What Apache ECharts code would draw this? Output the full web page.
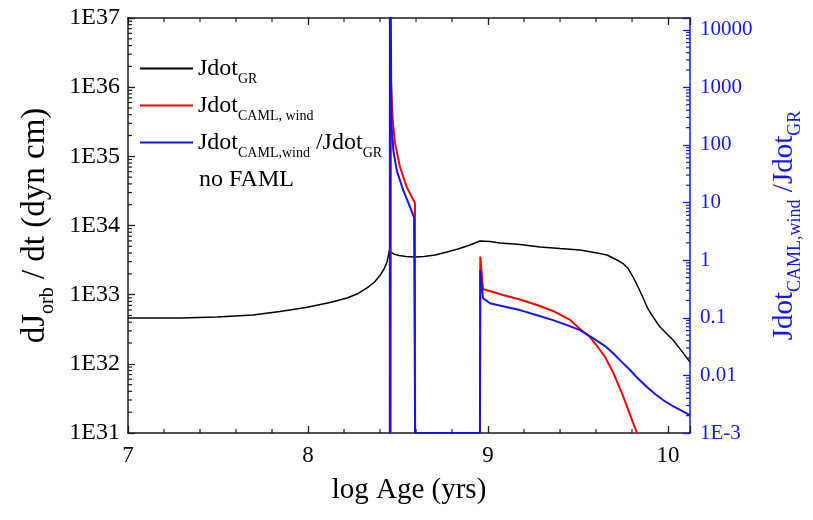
<!DOCTYPE html>
<html>
<head>
<meta charset="utf-8">
<script src="https://cdn.jsdelivr.net/npm/echarts@6/dist/echarts.min.js"></script>
<style>
  html, body { margin: 0; padding: 0; background: #fff; }
  #chart { width: 813px; height: 520px; }
</style>
</head>
<body>
<div id="chart"></div>
<script>
// Axis ranges
const X_MIN = 7, X_MAX = 10.122;
const Y_LEFT_MIN = 1e31, Y_LEFT_MAX = 1e37;
const Y_RIGHT_MIN = 1e-3, Y_RIGHT_MAX = 1.6e4;

// Jdot_GR (dyn cm) versus log age
const grAge = [7.0, 7.294, 7.494, 7.694, 7.844, 7.989, 8.122, 8.217, 8.272, 8.328, 8.367, 8.4, 8.422, 8.439,
  8.453, 8.461, 8.475, 8.506, 8.544, 8.594, 8.644, 8.706, 8.772, 8.833, 8.892, 8.956, 9.011, 9.067, 9.178,
  9.289, 9.4, 9.511, 9.606, 9.661, 9.694, 9.722, 9.75, 9.778, 9.806, 9.828, 9.844, 9.867, 9.883, 9.906,
  9.928, 9.956, 9.994, 10.028, 10.072, 10.122];
const grJdot = [4.60e32, 4.60e32, 4.75e32, 5.08e32, 5.71e32, 6.52e32, 7.71e32, 8.95e32, 1.02e33, 1.25e33,
  1.50e33, 1.89e33, 2.35e33, 2.97e33, 4.43e33, 4.14e33, 3.87e33, 3.68e33, 3.56e33, 3.51e33, 3.56e33, 3.74e33,
  4.14e33, 4.57e33, 5.13e33, 5.97e33, 5.86e33, 5.58e33, 5.31e33, 4.90e33, 4.65e33, 4.43e33, 4.00e33, 3.74e33,
  3.39e33, 3.12e33, 2.82e33, 2.39e33, 1.80e33, 1.38e33, 1.13e33, 8.37e32, 6.64e32, 5.25e32, 4.31e32, 3.40e32,
  2.70e32, 2.21e32, 1.58e32, 1.06e32];

// Jdot_CAML,wind (dyn cm); 1e30 marks phases with no wind loss (below the axis)
const camlAge = [8.459, 8.4605, 8.465, 8.4706, 8.4833, 8.511, 8.548, 8.594, 8.595, 8.955, 8.957, 8.972, 9.083,
  9.178, 9.272, 9.361, 9.456, 9.511, 9.567, 9.606, 9.65, 9.694, 9.75, 9.806, 9.828, 9.844];
const camlJdot = [1e30, 1.26e36, 1.26e36, 3.35e35, 1.55e35, 7.02e34, 3.61e34, 2.11e34, 1e30, 1e30, 3.55e33,
  1.21e33, 9.89e32, 8.51e32, 7.10e32, 5.81e32, 4.31e32, 3.19e32, 2.44e32, 1.81e32, 1.26e32, 7.62e31, 3.43e31,
  1.40e31, 1.0e31, 7.0e30];

// Jdot_CAML,wind / Jdot_GR
const ratioAge = [8.454, 8.455, 8.458, 8.4635, 8.474, 8.493, 8.529, 8.567, 8.589, 8.594, 8.595, 8.955, 8.957,
  8.972, 9.011, 9.094, 9.178, 9.272, 9.361, 9.439, 9.511, 9.583, 9.65, 9.694, 9.744, 9.789, 9.833, 9.883,
  9.928, 9.972, 10.022, 10.067, 10.122];
const ratioVal = [1e-5, 1e7, 1e7, 237, 80.7, 36.3, 16.4, 8.30, 5.56, 5.37, 1e-3, 1e-3, 0.67, 0.219, 0.179,
  0.156, 0.136, 0.111, 0.0910, 0.0746, 0.0611, 0.0444, 0.0323, 0.0244, 0.0170, 0.0124, 0.00881, 0.00627,
  0.00474, 0.00373, 0.00300, 0.00251, 0.00205];

// Tick labels
const xTickLabels = { 7: '7', 8: '8', 9: '9', 10: '10' };
const leftTickLabels = { 31: '1E31', 32: '1E32', 33: '1E33', 34: '1E34', 35: '1E35', 36: '1E36', 37: '1E37' };
const rightTickLabels = { '-3': '1E-3', '-2': '0.01', '-1': '0.1', 0: '1', 1: '10', 2: '100', 3: '1000', 4: '10000' };

// Minor tick positions
const xMinorTicks = [7.2, 7.4, 7.6, 7.8, 8.2, 8.4, 8.6, 8.8, 9.2, 9.4, 9.6, 9.8];
const logMinorFactors = [2, 3, 4, 5, 6, 7, 8, 9];
const leftDecades = [31, 32, 33, 34, 35, 36];
const rightDecades = [-3, -2, -1, 0, 1, 2, 3, 4];

const FONT = 'Liberation Serif';
const BLACK = '#1a1a1a';
const BLUE = '#1515e8';

const pairs = (xs, ys) => xs.map((x, i) => [x, ys[i]]);
const decadeLabel = (v, table) => {
  const e = Math.log10(v);
  const r = Math.round(e);
  return Math.abs(e - r) < 1e-6 && table[r] !== undefined ? table[r] : '';
};

const leftNameRich = {
  m: { fontFamily: FONT, fontSize: 33, lineHeight: 38 },
  s: { fontFamily: FONT, fontSize: 20, lineHeight: 20, padding: [25, 0, 0, 0] }
};
const rightNameRich = {
  m: { fontFamily: FONT, fontSize: 29, lineHeight: 34 },
  s: { fontFamily: FONT, fontSize: 18, lineHeight: 18, padding: [23, 0, 0, 0] }
};
const legendRich = {
  m: { fontFamily: FONT, fontSize: 24, lineHeight: 28, color: '#000' },
  s: { fontFamily: FONT, fontSize: 14, lineHeight: 14, padding: [21, 0, 0, 0], color: '#000' }
};
const legendText = {
  'Jdot_GR': '{m|Jdot}{s|GR}',
  'Jdot_CAML,wind': '{m|Jdot}{s|CAML, wind}',
  'Jdot_CAML,wind/Jdot_GR': '{m|Jdot}{s|CAML,wind}{m| /Jdot}{s|GR}'
};

const noFamlText = {
  id: 'noFaml',
  type: 'text',
  left: 199,
  top: 168,
  style: { text: 'no FAML', font: '24px "Liberation Serif"', fill: '#000' }
};

const MAJOR_LEN = 7;
const chart = echarts.init(document.getElementById('chart'));
chart.setOption({
  animation: false,
  backgroundColor: '#fff',
  grid: { left: 128, right: 123, top: 18, bottom: 87 },
  legend: {
    orient: 'vertical',
    left: 140,
    top: 51,
    padding: 0,
    icon: 'rect',
    itemWidth: 53,
    itemHeight: 2,
    itemGap: 2,
    selectedMode: false,
    data: ['Jdot_GR', 'Jdot_CAML,wind', 'Jdot_CAML,wind/Jdot_GR'],
    formatter: name => legendText[name],
    textStyle: { fontFamily: FONT, fontSize: 24, color: '#000', rich: legendRich }
  },
  graphic: [noFamlText],
  xAxis: [{
    type: 'value',
    position: 'bottom',
    min: X_MIN, max: X_MAX, interval: 1,
    name: 'log Age (yrs)',
    nameLocation: 'middle',
    nameGap: 43,
    nameTextStyle: { fontFamily: FONT, fontSize: 29, color: '#000' },
    axisLine: { show: true, lineStyle: { color: BLACK, width: 1.5 } },
    axisTick: { show: true, inside: true, length: MAJOR_LEN, lineStyle: { color: BLACK, width: 1.3 } },
    axisLabel: {
      margin: 11, fontFamily: FONT, fontSize: 23, color: '#000',
      formatter: v => { const r = Math.round(v); return Math.abs(v - r) < 1e-6 && xTickLabels[r] ? xTickLabels[r] : ''; }
    },
    splitLine: { show: false }
  }, {
    type: 'value',
    position: 'top',
    min: X_MIN, max: X_MAX, interval: 1,
    axisLine: { show: true, lineStyle: { color: BLACK, width: 1.5 } },
    axisTick: { show: true, inside: true, length: MAJOR_LEN, lineStyle: { color: BLACK, width: 1.3 } },
    axisLabel: { show: false },
    splitLine: { show: false }
  }],
  yAxis: [{
    type: 'log',
    logBase: 10,
    position: 'left',
    min: Y_LEFT_MIN, max: Y_LEFT_MAX,
    name: '{m|dJ}{s|orb}{m| / dt (dyn cm)}',
    nameLocation: 'middle',
    nameRotate: 90,
    nameGap: 74,
    nameTextStyle: { color: '#000', rich: leftNameRich },
    axisLine: { show: true, lineStyle: { color: BLACK, width: 1.5 } },
    axisTick: { show: true, inside: true, length: MAJOR_LEN, lineStyle: { color: BLACK, width: 1.3 } },
    axisLabel: {
      margin: 8, fontFamily: FONT, fontSize: 24, color: '#000',
      formatter: v => decadeLabel(v, leftTickLabels)
    },
    splitLine: { show: false }
  }, {
    type: 'log',
    logBase: 10,
    position: 'right',
    min: Y_RIGHT_MIN, max: Y_RIGHT_MAX,
    name: '{m|Jdot}{s|CAML,wind}{m| /Jdot}{s|GR}',
    nameLocation: 'middle',
    nameRotate: 90,
    nameGap: 64,
    nameTextStyle: { color: BLUE, rich: rightNameRich },
    axisLine: { show: true, lineStyle: { color: BLUE, width: 1.5 } },
    axisTick: { show: true, inside: true, length: MAJOR_LEN, lineStyle: { color: BLUE, width: 1.3 } },
    axisLabel: {
      margin: 10, fontFamily: FONT, fontSize: 21, color: BLUE,
      formatter: v => decadeLabel(v, rightTickLabels)
    },
    splitLine: { show: false }
  }],
  series: [{
    name: 'Jdot_GR',
    type: 'line',
    xAxisIndex: 0, yAxisIndex: 0,
    data: pairs(grAge, grJdot),
    symbol: 'none',
    lineStyle: { color: '#000', width: 1.5 },
    itemStyle: { color: '#000' },
    z: 3
  }, {
    name: 'Jdot_CAML,wind',
    type: 'line',
    xAxisIndex: 0, yAxisIndex: 0,
    data: pairs(camlAge, camlJdot),
    symbol: 'none',
    lineStyle: { color: '#ff0000', width: 2 },
    itemStyle: { color: '#ff0000' },
    z: 4
  }, {
    name: 'Jdot_CAML,wind/Jdot_GR',
    type: 'line',
    xAxisIndex: 0, yAxisIndex: 1,
    data: pairs(ratioAge, ratioVal),
    symbol: 'none',
    lineStyle: { color: BLUE, width: 2 },
    itemStyle: { color: BLUE },
    z: 5
  }]
});

// Minor ticks, placed through the axes' own data-to-pixel conversion
const MINOR_LEN = 4;
const leftFinder = { xAxisIndex: 0, yAxisIndex: 0 };
const rightFinder = { xAxisIndex: 0, yAxisIndex: 1 };
const tickGraphics = [];
function addTick(id, p, dx, dy, color) {
  tickGraphics.push({
    id: id,
    type: 'line',
    silent: true,
    z: 10,
    shape: { x1: p[0], y1: p[1], x2: p[0] + dx, y2: p[1] + dy },
    style: { stroke: color, lineWidth: 1.2 }
  });
}
leftDecades.forEach(d => logMinorFactors.forEach(m => {
  const p = chart.convertToPixel(leftFinder, [X_MIN, m * Math.pow(10, d)]);
  addTick('l' + d + '_' + m, p, MINOR_LEN, 0, BLACK);
}));
rightDecades.forEach(d => logMinorFactors.forEach(m => {
  const v = m * Math.pow(10, d);
  if (v >= Y_RIGHT_MAX) return;
  const p = chart.convertToPixel(rightFinder, [X_MAX, v]);
  addTick('r' + d + '_' + m, p, -MINOR_LEN, 0, BLUE);
}));
xMinorTicks.forEach((x, i) => {
  addTick('b' + i, chart.convertToPixel(leftFinder, [x, Y_LEFT_MIN]), 0, -MINOR_LEN, BLACK);
  addTick('t' + i, chart.convertToPixel(leftFinder, [x, Y_LEFT_MAX]), 0, MINOR_LEN, BLACK);
});
chart.setOption({ graphic: [noFamlText].concat(tickGraphics) });
</script>
</body>
</html>
